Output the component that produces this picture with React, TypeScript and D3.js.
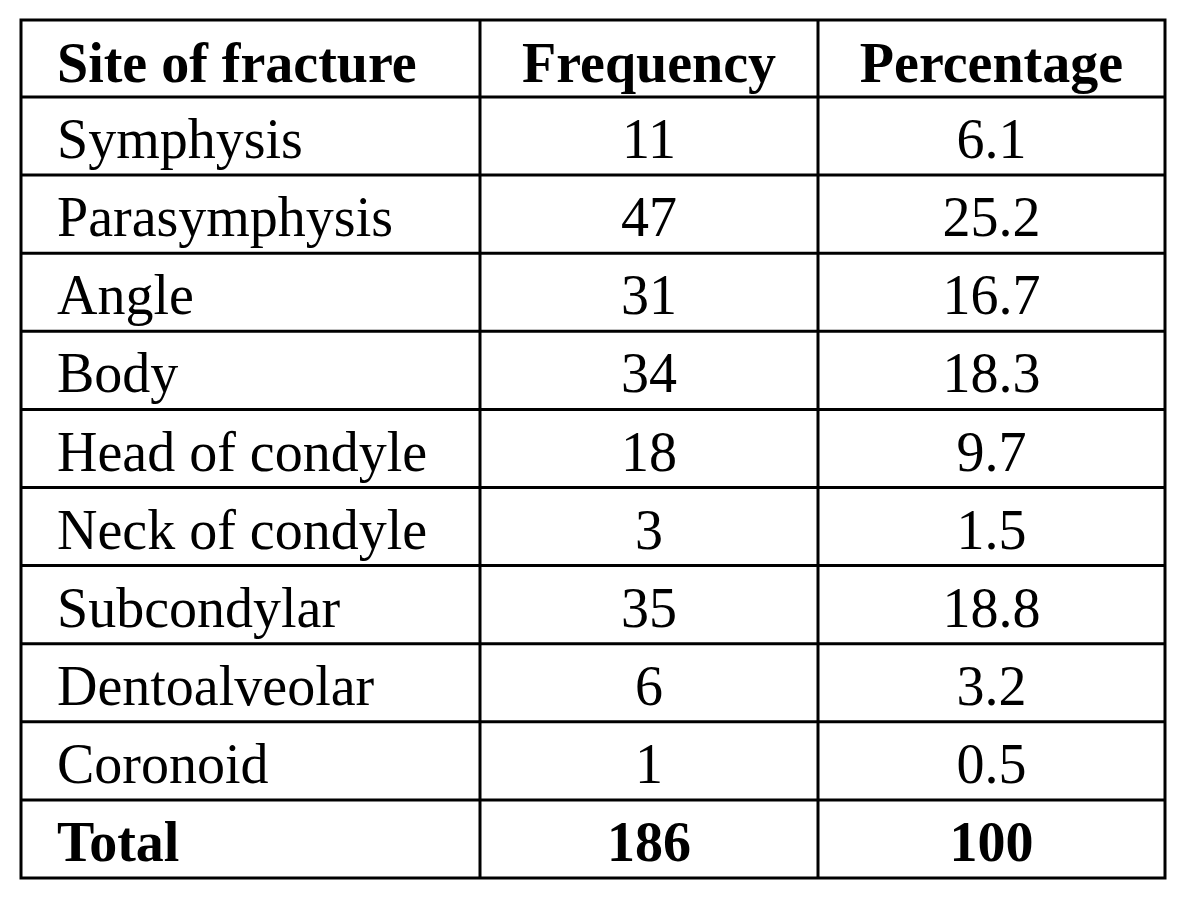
import React, { useRef, useEffect } from 'react';
import * as d3 from 'd3';

const headers = ['Site of fracture', 'Frequency', 'Percentage'];
const sites = ['Symphysis', 'Parasymphysis', 'Angle', 'Body', 'Head of condyle', 'Neck of condyle', 'Subcondylar', 'Dentoalveolar', 'Coronoid'];
const frequencies = ['11', '47', '31', '34', '18', '3', '35', '6', '1'];
const percentages = ['6.1', '25.2', '16.7', '18.3', '9.7', '1.5', '18.8', '3.2', '0.5'];
const totalRow = ['Total', '186', '100'];

const width = 1200;
const height = 902;

function App() {
  const ref = useRef<SVGSVGElement>(null);

  useEffect(() => {
    const svg = d3.select(ref.current);
    svg.selectAll('*').remove();

    const colEdges = [21, 480, 818, 1165];
    const top = 20;
    const headerBottom = 97;
    const bottom = 878;

    const rows = sites.map((s, i) => ({ cells: [s, frequencies[i], percentages[i]], bold: false }));
    rows.push({ cells: totalRow, bold: true });

    const y = d3.scaleBand<number>()
      .domain(d3.range(rows.length))
      .range([headerBottom, bottom]);

    const font = '"Liberation Serif", "Times New Roman", serif';
    const fs = 56;

    const g = svg.append('g');

    // header text
    headers.forEach((h, c) => {
      g.append('text')
        .text(h)
        .attr('x', c === 0 ? colEdges[0] + 36 : (colEdges[c] + colEdges[c + 1]) / 2)
        .attr('y', headerBottom - 15)
        .attr('text-anchor', c === 0 ? 'start' : 'middle')
        .style('font-family', font)
        .style('font-size', fs)
        .style('font-weight', 'bold')
        .attr('fill', '#000');
    });

    // body rows
    rows.forEach((r, i) => {
      r.cells.forEach((v, c) => {
        g.append('text')
          .text(v)
          .attr('x', c === 0 ? colEdges[0] + 36 : (colEdges[c] + colEdges[c + 1]) / 2)
          .attr('y', (y(i) as number) + y.bandwidth() - 17)
          .attr('text-anchor', c === 0 ? 'start' : 'middle')
          .style('font-family', font)
          .style('font-size', fs)
          .style('font-weight', r.bold ? 'bold' : 'normal')
          .attr('fill', '#000');
      });
    });

    // horizontal rules
    const hLines = [headerBottom, ...rows.map((_, i) => (y(i) as number) + y.bandwidth())];
    g.selectAll('line.h')
      .data(hLines.slice(0, -1))
      .enter()
      .append('line')
      .attr('x1', colEdges[0])
      .attr('x2', colEdges[3])
      .attr('y1', d => d)
      .attr('y2', d => d)
      .attr('stroke', '#000')
      .attr('stroke-width', 3);

    // vertical rules
    g.selectAll('line.v')
      .data(colEdges.slice(1, -1))
      .enter()
      .append('line')
      .attr('x1', d => d)
      .attr('x2', d => d)
      .attr('y1', top)
      .attr('y2', bottom)
      .attr('stroke', '#000')
      .attr('stroke-width', 3);

    // outer border
    g.append('rect')
      .attr('x', colEdges[0])
      .attr('y', top)
      .attr('width', colEdges[3] - colEdges[0])
      .attr('height', bottom - top)
      .attr('fill', 'none')
      .attr('stroke', '#000')
      .attr('stroke-width', 3);
  }, []);

  return (
    <svg ref={ref} width={width} height={height} style={{ position: 'absolute', left: 0, top: 0, background: '#fff' }}></svg>
  );
}

export default App;
